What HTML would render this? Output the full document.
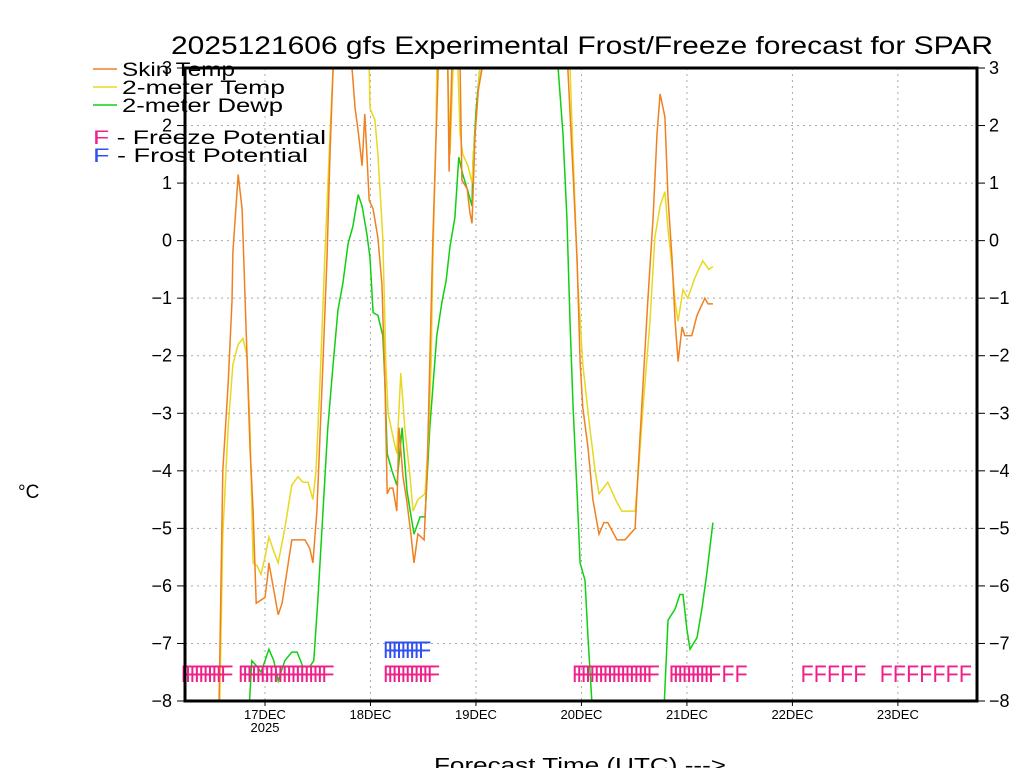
<!DOCTYPE html>
<html><head><meta charset="utf-8"><style>
html,body{margin:0;padding:0;background:#fff;}
svg{display:block;font-family:"Liberation Sans",sans-serif;}
</style></head><body>
<svg id="chart" width="1024" height="768" viewBox="0 0 1024 768" xmlns="http://www.w3.org/2000/svg">
<rect width="1024" height="768" fill="#fff"/>
<text x="582" y="54" font-size="25" text-anchor="middle" textLength="822" lengthAdjust="spacingAndGlyphs">2025121606 gfs Experimental Frost/Freeze forecast for SPAR</text>
<g id="grid"></g>
<g id="series" clip-path="url(#clip)"></g>
<g id="marks"></g>
<g id="axes"></g>
<defs><clipPath id="clip"><rect x="185" y="68" width="792" height="633"/></clipPath></defs>
<g font-size="19">
<line x1="93" y1="69" x2="117" y2="69" stroke="#f08020" stroke-width="1.5"/>
<text x="122" y="76" textLength="113" lengthAdjust="spacingAndGlyphs">Skin Temp</text>
<line x1="93" y1="87" x2="117" y2="87" stroke="#e8d820" stroke-width="1.5"/>
<text x="122" y="94" textLength="163" lengthAdjust="spacingAndGlyphs">2-meter Temp</text>
<line x1="93" y1="105" x2="117" y2="105" stroke="#10d010" stroke-width="1.5"/>
<text x="122" y="112" textLength="161" lengthAdjust="spacingAndGlyphs">2-meter Dewp</text>
<text x="93" y="144" textLength="233" lengthAdjust="spacingAndGlyphs"><tspan fill="#f0208a">F</tspan> - Freeze Potential</text>
<text x="93" y="162" textLength="215" lengthAdjust="spacingAndGlyphs"><tspan fill="#3050f0">F</tspan> - Frost Potential</text>
</g>
<text x="18" y="498" font-size="19">°C</text>
<text x="580" y="772" font-size="20" text-anchor="middle" textLength="292" lengthAdjust="spacingAndGlyphs">Forecast Time (UTC) ---&gt;</text>
</svg>
<script>
// hours since 17DEC 00Z
const skinH=[-10.5,-9.6,-8.4,-7.5,-7.3,-6.1,-5.2,-4.1,-3.4,-2.7,-2.0,0,0.5,0.9,3.0,3.9,6.1,9.1,10.2,10.9,11.8,13.0,14.1,14.8,15.5,17.1,19.8,20.5,21.2,22.1,22.7,23.7,24.6,25.7,26.6,27.3,27.8,28.4,29.1,30.0,30.5,31.4,32.3,33.2,33.9,34.8,36.2,36.9,37.5,38.2,39.1,39.4,40.5,41.6,41.9,42.5,43.4,44.4,44.8,46.0,46.6,47.1,47.8,48.5,49.4,53.5,64.8,68.9,70.1,71.0,71.7,72.3,73.5,74.6,76.0,77.1,78.0,80.1,81.9,84.2,84.9,86.0,87.1,88.3,89.2,89.9,91.0,91.7,92.6,93.3,94.0,94.9,95.5,97.1,98.3,100.1,100.8,101.9];
const skinV=[-8.3,-4,-2.5,-1.05,-0.2,1.15,0.55,-2,-3.6,-4.7,-6.3,-6.2,-5.9,-5.6,-6.5,-6.3,-5.2,-5.2,-5.35,-5.6,-4.7,-2.5,-0.3,1.5,3,4,3,2.3,1.9,1.3,2.2,0.7,0.55,0.05,-0.75,-2.5,-4.4,-4.3,-4.3,-4.7,-3.25,-4.1,-4.55,-5.1,-5.6,-5.1,-5.2,-4,-2.1,0.05,2.2,3,4,3,1.2,3,4,3,1.05,0.9,0.5,0.3,1.85,2.6,3,5,5,3,1.15,-0.3,-2.1,-2.9,-3.6,-4.5,-5.1,-4.9,-4.9,-5.2,-5.2,-5,-4,-2.5,-1.05,0.4,1.85,2.55,2.15,0.75,-0.3,-1.4,-2.1,-1.5,-1.65,-1.65,-1.3,-1.0,-1.1,-1.1];
const tempH=[-10.4,-9.6,-8.4,-7.3,-6.1,-5.0,-4.1,-3.4,-2.7,-1.8,-0.9,0,0.9,2.0,3.0,4.5,6.1,7.5,8.6,9.8,10.9,11.6,12.5,13.6,14.8,15.5,18.2,22.1,22.5,23.7,23.9,25.0,25.7,26.8,27.5,28.0,29.1,30.0,30.9,31.8,33.0,33.7,34.8,36.4,37.1,37.8,38.2,38.9,39.1,40.9,41.6,42.1,42.8,43.9,44.4,45.0,46.2,47.1,47.5,48.2,48.9,53.5,66,69.4,70.1,71.2,72.3,73.9,75.1,76.0,78.0,80.1,81.2,84.2,84.9,86.0,87.6,88.7,89.9,91.0,91.7,92.6,93.3,94.0,95.1,96.2,97.8,99.6,101.0,101.9];
const tempV=[-8.5,-5.1,-3.25,-2.15,-1.8,-1.7,-2,-3.25,-5.6,-5.65,-5.8,-5.5,-5.15,-5.4,-5.6,-5,-4.25,-4.1,-4.2,-4.2,-4.5,-4,-2.5,-0.3,1.85,3,5,3,3.5,3,2.3,2.1,1.5,0.05,-2.15,-3,-3.4,-3.7,-2.3,-3.25,-4.1,-4.7,-4.5,-4.4,-3.6,-2.15,-0.3,1.85,3,4,3,1.5,3,3,1.85,1.5,1.3,1.0,1.6,2.25,3,5,5,3,1.5,-0.75,-2.15,-3.25,-4,-4.4,-4.2,-4.55,-4.7,-4.7,-4.1,-2.9,-1.4,0.05,0.6,0.85,0.2,-0.45,-1.05,-1.4,-0.85,-1.0,-0.65,-0.35,-0.5,-0.45];
const dewpH=[-3.6,-3.0,-1.8,-0.9,0,0.9,2.0,3.0,4.5,6.1,7.3,8.6,10.2,11.1,12.1,13.2,14.3,15.5,16.6,17.7,18.9,20.0,21.2,22.1,23.2,23.9,24.6,25.7,26.8,27.3,27.8,28.9,30.0,31.2,32.3,33.9,35.3,36.4,37.5,39.1,40.3,41.2,42.1,43.2,44.1,45.0,46.0,47.1,47.3,48.0,48.9,53.5,63.7,66.7,67.8,68.7,69.4,70.1,71.0,71.7,72.8,73.5,74.4,76.2,87.6,90.8,91.7,93.3,94.4,95.1,96.0,96.7,98.3,99.4,100.5,101.9];
const dewpV=[-8.1,-7.3,-7.4,-7.5,-7.3,-7.1,-7.3,-7.65,-7.3,-7.15,-7.15,-7.4,-7.4,-7.3,-6.15,-4.7,-3.25,-2.15,-1.2,-0.75,-0.05,0.25,0.8,0.6,0.1,-0.3,-1.25,-1.3,-1.65,-2.5,-3.7,-4,-4.25,-3.25,-4.35,-5.1,-4.8,-4.8,-3.25,-1.65,-1.05,-0.7,-0.1,0.4,1.45,1.15,0.9,0.6,1.35,2.25,3,5,5,3,1.85,0.4,-1.4,-2.9,-4.35,-5.6,-5.9,-6.9,-8.05,-9,-9,-8.1,-6.6,-6.4,-6.15,-6.15,-6.75,-7.1,-6.9,-6.4,-5.8,-4.9];
const freezeHours=[-18,-17,-16,-15,-14,-13,-12,-11,-10,-9,-5,-4,-3,-2,-1,0,1,2,3,4,5,6,7,8,9,10,11,12,13,14,28,29,30,31,32,33,34,35,36,37,38,71,72,73,74,75,76,77,78,79,80,81,82,83,84,85,86,87,88,93,94,95,96,97,98,99,100,101,102,105,108,123,126,129,132,135,141,144,147,150,153,156,159];
const frostHours=[28,29,30,31,32,33,34,35,36];
const yTicks=[3,2,1,0,-1,-2,-3,-4,-5,-6,-7,-8];
const dayLabels=["17DEC","18DEC","19DEC","20DEC","21DEC","22DEC","23DEC"];
const dayHours=[0,24,48,72,96,120,144];

const NS="http://www.w3.org/2000/svg";
const X0=185,X1=977,Y0=68,Y1=701;
const HMIN=-18.2,HMAX=162.0,VMIN=-8,VMAX=3;
function xs(h){return X0+(h-HMIN)/(HMAX-HMIN)*(X1-X0);}
function ys(v){return Y1-(v-VMIN)/(VMAX-VMIN)*(Y1-Y0);}
function mk(tag,attrs,parent){const e=document.createElementNS(NS,tag);for(const k in attrs)e.setAttribute(k,attrs[k]);parent.appendChild(e);return e;}
const grid=document.getElementById('grid'),series=document.getElementById('series'),marks=document.getElementById('marks'),axes=document.getElementById('axes');

yTicks.forEach(v=>{
  if(v>VMIN&&v<VMAX){const l=mk('line',{x1:X0,x2:X1,y1:ys(v),y2:ys(v),stroke:'#aaa','stroke-dasharray':'2,4'},grid);
  
  }
  const t1=mk('line',{x1:X0-8,x2:X0,y1:ys(v),y2:ys(v),stroke:'#000'},axes);
  
  
  const t2=mk('line',{x1:X1,x2:X1+8,y1:ys(v),y2:ys(v),stroke:'#000'},axes);
  
  
  const a=mk('text',{x:X0-13,y:ys(v)+6,'font-size':18,'text-anchor':'end'},axes);a.textContent=(v<0?'\u2212':'')+Math.abs(v);
  
  
  const b=mk('text',{x:X1+12,y:ys(v)+6,'font-size':18},axes);b.textContent=(v<0?'\u2212':'')+Math.abs(v);
  
  
});
dayHours.forEach((h,i)=>{
  const l=mk('line',{x1:xs(h),x2:xs(h),y1:Y0,y2:Y1,stroke:'#aaa','stroke-dasharray':'2,4'},grid);
  
  
  const t=mk('line',{x1:xs(h),x2:xs(h),y1:Y1,y2:Y1+5,stroke:'#000'},axes);
  
  
  const lb=mk('text',{x:xs(h),y:719,'font-size':13,'text-anchor':'middle'},axes);lb.textContent=dayLabels[i];
  
  
});
const yr=mk('text',{x:xs(0),y:732,'font-size':13,'text-anchor':'middle'},axes);yr.textContent='2025';


const frame=mk('rect',{x:X0,y:Y0,width:X1-X0,height:Y1-Y0,fill:'none',stroke:'#000','stroke-width':3},axes);



function line(H,V,color,name){
  const d=H.map((h,i)=>(i?'L':'M')+xs(h).toFixed(1)+','+ys(V[i]).toFixed(1)).join('');
  const p=mk('path',{d:d,fill:'none',stroke:color,'stroke-width':1.5,'stroke-linejoin':'miter'},series);
  
  
}
line(dewpH,dewpV,'#10d010','dewpoint-line');
line(tempH,tempV,'#e8d820','temp-2m-line');
line(skinH,skinV,'#f08020','skin-temp-line');

function fmarks(hours,y,color,name){
  hours.forEach(h=>{
    const t=mk('text',{x:xs(h)-5,y:y,'font-size':24,fill:color,textLength:13,lengthAdjust:'spacingAndGlyphs'},marks);
    t.textContent='F';
    
    
  });
}
fmarks(freezeHours,682,'#f0208a','freeze-marker');
fmarks(frostHours,658,'#3050f0','frost-marker');
</script>
</body></html>
